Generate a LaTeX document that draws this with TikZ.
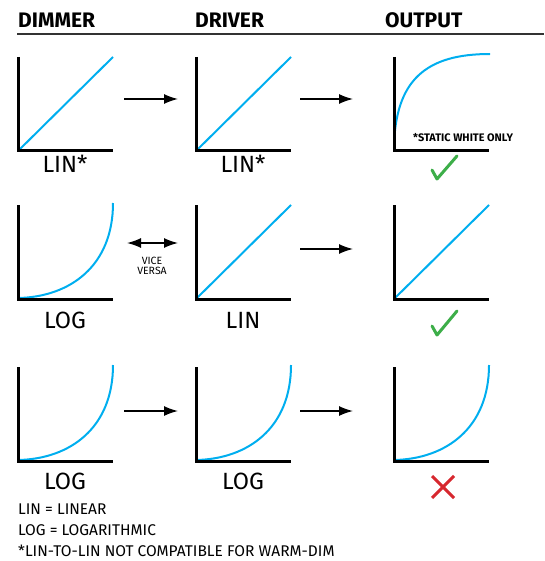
\documentclass[tikz,border=0pt]{standalone}
\usepackage{fontspec}
\setmainfont{Fira Sans}
\usetikzlibrary{arrows.meta}
\definecolor{cblue}{HTML}{00AEEF}
\definecolor{cgreen}{HTML}{3DAE49}
\definecolor{cred}{HTML}{D7282F}
\definecolor{cline}{HTML}{333333}
\begin{document}
\begin{tikzpicture}[x=1pt,y=-1pt,
  axis/.style={line width=3pt,black,line join=miter},
  curve/.style={line width=2pt,cblue},
  flow/.style={line width=1.5pt,-{Latex[length=14pt,width=10pt]}},
  both/.style={line width=1.5pt,{Latex[length=14pt,width=10pt]}-{Latex[length=14pt,width=10pt]}},
  head/.style={anchor=west,font=\bfseries\fontsize{21}{24}\selectfont,inner sep=0pt},
  lbl/.style={font=\fontsize{23.5}{27}\selectfont,inner sep=0pt},
  legend/.style={anchor=west,font=\fontsize{15.5}{18}\selectfont,inner sep=0pt},
  tiny/.style={font=\fontsize{10.5}{10.5}\selectfont,inner sep=0pt,align=center},
  check/.style={line width=3pt,cgreen,line cap=round,line join=round},
  cross/.style={line width=3pt,cred},
  lin/.pic={\draw[curve] (0,0) -- (95,-94); \draw[axis] (0,-94) -- (0,0) -- (95,0);},
  log/.pic={\draw[curve] (0,-1) .. controls (52,-2) and (95,-33) .. (95,-96); \draw[axis] (0,-94) -- (0,0) -- (95,0);},
  sat/.pic={\draw[curve] (0,0) .. controls (0,-72) and (33,-97) .. (96,-97); \draw[axis] (0,-94) -- (0,0) -- (95,0);}
]
\useasboundingbox (0,0) rectangle (544,561);
% headers
\node[head] (h1) at (18,20) {DIMMER};
\node[head] (h2) at (195,20) {DRIVER};
\node[head] (h3) at (385,20) {OUTPUT};
\coordinate (rl) at (17,34);
\coordinate (rr) at (544,34);
\draw[line width=1.5pt,cline] (rl) -- (rr);
% row 1
\pic at (18,151) {lin};
\pic at (196,151) {lin};
\pic at (394,151) {sat};
\node[lbl] (l11) at (65,164) {LIN*};
\node[lbl] (l12) at (243,164) {LIN*};
\node[font=\bfseries\fontsize{10.9}{12}\selectfont,inner sep=0pt,anchor=west] (sw) at (413,138) {*STATIC WHITE ONLY};
\coordinate (a1s) at (124,99); \coordinate (a1e) at (178,99);
\coordinate (b1s) at (300,99); \coordinate (b1e) at (353,99);
\draw[flow] (a1s) -- (a1e);
\draw[flow] (b1s) -- (b1e);
\coordinate (c1a) at (432,170); \coordinate (c1b) at (437,179); \coordinate (c1c) at (457,156);
\draw[check] (c1a) -- (c1b) -- (c1c);
% row 2
\pic at (18,299) {log};
\pic at (196,299) {lin};
\pic at (394,299) {lin};
\node[lbl] (l21) at (65,320) {LOG};
\node[lbl] (l22) at (243,320) {LIN};
\coordinate (a2s) at (127,243); \coordinate (a2e) at (178,243);
\draw[both] (a2s) -- (a2e);
\node[tiny] (vv) at (152,266) {VICE\\VERSA};
\coordinate (b2s) at (300,249); \coordinate (b2e) at (353,249);
\draw[flow] (b2s) -- (b2e);
\coordinate (c2a) at (432,326); \coordinate (c2b) at (437,335); \coordinate (c2c) at (457,311);
\draw[check] (c2a) -- (c2b) -- (c2c);
% row 3
\pic at (18,461) {log};
\pic at (196,461) {log};
\pic at (394,461) {log};
\node[lbl] (l31) at (65,481) {LOG};
\node[lbl] (l32) at (243,481) {LOG};
\coordinate (a3s) at (124,411); \coordinate (a3e) at (178,411);
\coordinate (b3s) at (300,411); \coordinate (b3e) at (353,411);
\draw[flow] (a3s) -- (a3e);
\draw[flow] (b3s) -- (b3e);
\coordinate (x1) at (432,476); \coordinate (x2) at (454,498);
\coordinate (x3) at (454,476); \coordinate (x4) at (432,498);
\draw[cross] (x1) -- (x2);
\draw[cross] (x3) -- (x4);
% legend
\node[legend] (g1) at (18,509) {LIN = LINEAR};
\node[legend] (g2) at (18,530) {LOG = LOGARITHMIC};
\node[legend] (g3) at (18,551) {*LIN-TO-LIN NOT COMPATIBLE FOR WARM-DIM};
\end{tikzpicture}
\end{document}
